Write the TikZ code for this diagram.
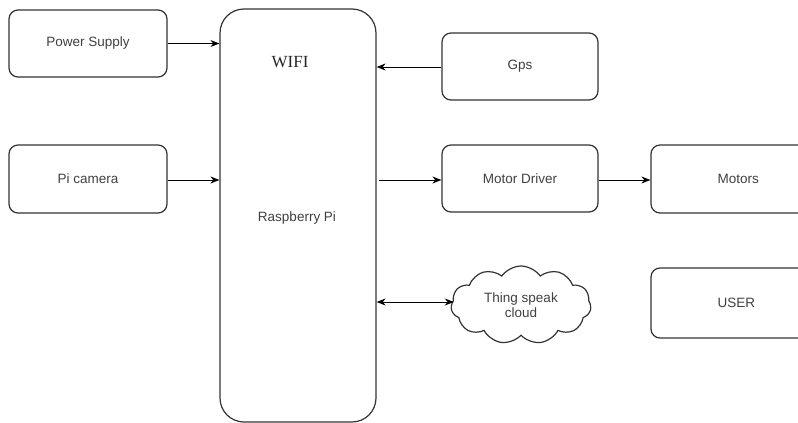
\documentclass[tikz,border=0pt]{standalone}
\usepackage{fontspec}
\setmainfont{Liberation Sans}
\newfontfamily\serifw{Liberation Serif}
\usetikzlibrary{shapes.symbols,arrows.meta}
\begin{document}
\begin{tikzpicture}[x=1pt,y=-1pt,
  >={Stealth[length=9pt,width=7pt]},
  box/.style={draw=black!80,line width=1.2pt,rounded corners=9pt,text=black!75,
    font=\fontsize{13.5}{16}\selectfont,minimum width=158pt,minimum height=67pt,inner sep=0pt},
  conn/.style={draw=black,line width=1pt,->}]
\useasboundingbox (0,0) rectangle (798,423);
\fill[white] (0,0) rectangle (798,423);
\node[box] (ps) at (88,43.5) {Power Supply};
\node[box,minimum height=68pt] (pc) at (88,179) {Pi camera};
\node[box,minimum width=156pt,minimum height=413pt,rounded corners=24pt] (rpi) at (298,215.5) {};
\node[text=black!75,font=\fontsize{13.5}{16}\selectfont] (rpitext) at (297,218) {Raspberry Pi};
\node[font=\serifw\fontsize{17}{20}\selectfont,text=black!85] (wifi) at (290,62) {WIFI};
\node[box,minimum width=156pt] (gps) at (520,66.5) {Gps};
\node[box,minimum width=156pt] (md) at (520,178.5) {Motor Driver};
\node[box,minimum width=169pt,minimum height=68pt,text width=150pt,align=left] (mot) at (735.5,179) {\hspace*{57pt}Motors};
\node[box,minimum width=169pt,minimum height=70pt,text width=150pt,align=left] (user) at (735.5,303) {\hspace*{57pt}USER};
\node[cloud,draw=black!80,line width=1.2pt,cloud puffs=11,cloud puff arc=110,aspect=1.85,minimum width=140pt,minimum height=78pt,inner sep=0pt,align=center,text=black!75,font=\fontsize{13.5}{15}\selectfont] (cloud) at (521,305) {Thing speak\\cloud};
% connectors
\draw[conn] (ps.east) -- (ps.east -| rpi.west);
\draw[conn] ([yshift=-1pt]pc.east) -- ([yshift=-1pt]pc.east -| rpi.west);
\draw[conn] ([yshift=-0.5pt]gps.west) -- ([yshift=-0.5pt]gps.west -| rpi.east);
\draw[conn] ([xshift=2pt,yshift=-1.5pt]md.west -| rpi.east) -- ([yshift=-1.5pt]md.west);
\draw[conn] ([yshift=-1.5pt]md.east) -- ([yshift=-1.5pt]md.east -| mot.west);
\draw[conn,<->] ([yshift=3pt]cloud.west -| rpi.east) -- ([xshift=3pt,yshift=3pt]cloud.west);
\end{tikzpicture}
\end{document}
